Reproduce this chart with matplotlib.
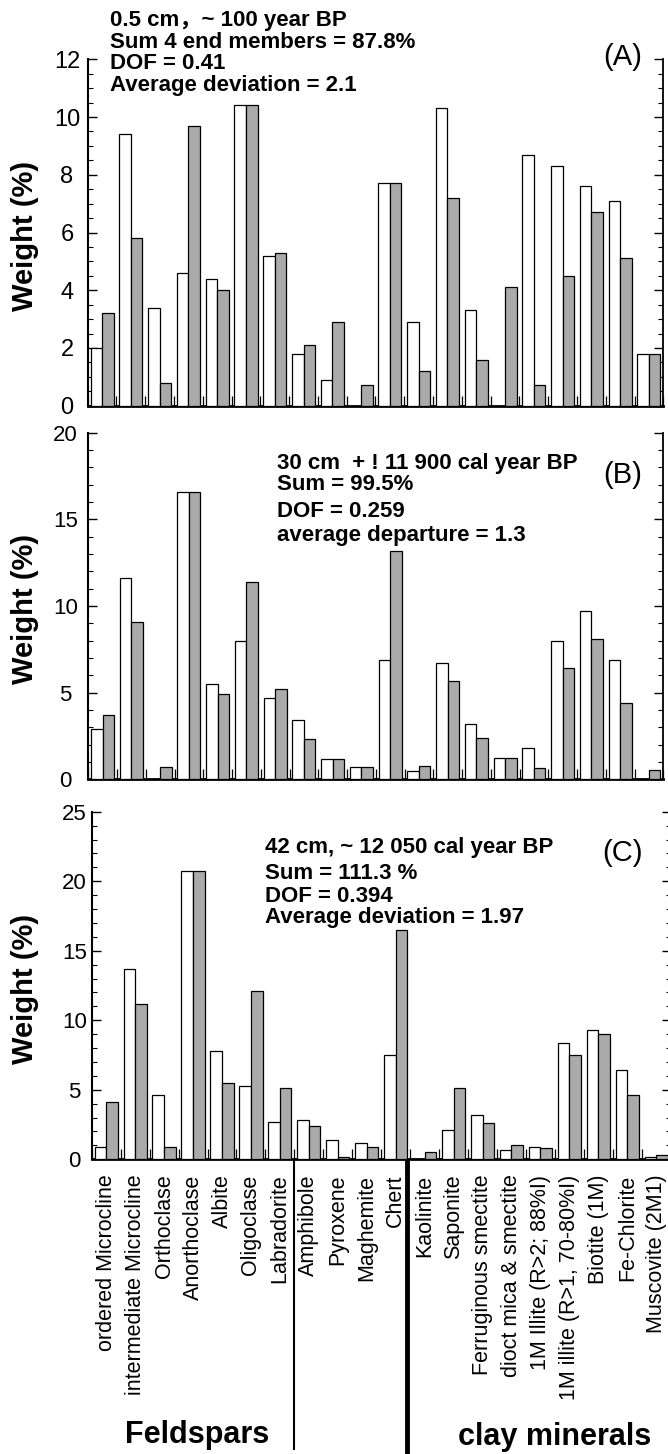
import matplotlib
matplotlib.use('Agg')
import matplotlib.pyplot as plt
from matplotlib.ticker import MultipleLocator
import numpy as np

plt.rcParams['font.family'] = ['Liberation Sans', 'DejaVu Sans']

minerals = ['ordered Microcline', 'intermediate Microcline', 'Orthoclase',
            'Anorthoclase', 'Albite', 'Oligoclase', 'Labradorite',
            'Amphibole', 'Pyroxene', 'Maghemite', 'Chert', 'Kaolinite',
            'Saponite', 'Ferruginous smectite', 'dioct mica & smectite',
            '1M Illite (R>2; 88%I)', '1M illite (R>1, 70-80%I)',
            'Biotite (1M)', 'Fe-Chlorite', 'Muscovite (2M1)']
groups = ['Feldspars', 'clay minerals']

# (A) 0.5 cm
a_white = [2.0, 9.4, 3.4, 4.6, 4.4, 10.4, 5.2, 1.8, 0.9, 0.0,
           7.7, 2.9, 10.3, 3.3, 0.0, 8.7, 8.3, 7.6, 7.1, 1.8]
a_gray = [3.2, 5.8, 0.8, 9.7, 4.0, 10.4, 5.3, 2.1, 2.9, 0.7,
          7.7, 1.2, 7.2, 1.6, 4.1, 0.7, 4.5, 6.7, 5.1, 1.8]
a_notes = ['0.5 cm，~ 100 year BP', 'Sum 4 end members = 87.8%',
           'DOF = 0.41', 'Average deviation = 2.1']

# (B) 30 cm
b_white = [2.9, 11.6, 0.0, 16.6, 5.5, 8.0, 4.7, 3.4, 1.2, 0.7,
           6.9, 0.5, 6.7, 3.2, 1.25, 1.8, 8.0, 9.7, 6.9, 0.0]
b_gray = [3.7, 9.1, 0.7, 16.6, 4.9, 11.4, 5.2, 2.3, 1.2, 0.7,
          13.2, 0.75, 5.7, 2.4, 1.25, 0.65, 6.4, 8.1, 4.4, 0.55]
b_notes = ['30 cm  + ! 11 900 cal year BP', 'Sum = 99.5%',
           'DOF = 0.259', 'average departure = 1.3']

# (C) 42 cm
c_white = [0.9, 13.7, 4.6, 20.7, 7.8, 5.3, 2.7, 2.8, 1.4, 1.15,
           7.5, 0.0, 2.1, 3.2, 0.7, 0.9, 8.4, 9.3, 6.4, 0.2]
c_gray = [4.1, 11.2, 0.9, 20.7, 5.5, 12.1, 5.1, 2.4, 0.2, 0.9,
          16.5, 0.55, 5.1, 2.6, 1.0, 0.8, 7.5, 9.0, 4.6, 0.3]
c_notes = ['42 cm, ~ 12 050 cal year BP', 'Sum = 111.3 %',
           'DOF = 0.394', 'Average deviation = 1.97']

W, H = 668, 1454
fig = plt.figure(figsize=(W / 100, H / 100), dpi=100)


def fx(x):
    return x / W


def fy(y):
    return 1 - y / H


def panel(left, right, top, bottom, white, gray, ymax, major, minor,
          lab_x, lab_size, tag, tag_y, notes, note_x, note_ys):
    ax = fig.add_axes([fx(left), fy(bottom), (right - left) / W, (bottom - top) / H])
    x = np.arange(len(white))
    ax.bar(x + 0.1, white, width=0.4, align='edge', color='white',
           edgecolor='black', lw=0.9, zorder=3)
    ax.bar(x + 0.5, gray, width=0.4, align='edge', color='#aaaaaa',
           edgecolor='black', lw=0.9, zorder=3)
    ax.set_xlim(0, len(white))
    ax.set_ylim(0, ymax)

    ax.spines['top'].set_visible(False)
    ax.spines['left'].set_linewidth(1.5)
    ax.spines['right'].set_linewidth(1.3)
    ax.spines['bottom'].set_linewidth(2.0)

    ax.yaxis.set_major_locator(MultipleLocator(major))
    ax.yaxis.set_minor_locator(MultipleLocator(minor))
    ax.tick_params(axis='y', which='both', direction='in', left=True, right=True)
    ax.tick_params(axis='y', which='major', length=6.5, width=1.0,
                   labelsize=lab_size, pad=(left - lab_x) * 0.72)
    ax.tick_params(axis='y', which='minor', length=3.5, width=0.8)
    for lbl in ax.get_yticklabels():
        lbl.set_horizontalalignment('center')

    ax.set_xticks(x + 0.5)
    ax.set_xticks(np.arange(len(white) + 1), minor=True)
    ax.tick_params(axis='x', which='major', length=0)
    ax.tick_params(axis='x', which='minor', direction='in', length=7, width=0.9)
    ax.set_xticklabels([])

    fig.text(fx(25), fy((top + bottom) / 2 + 3), 'Weight (%)', rotation=90,
             ha='center', va='center', fontsize=21, fontweight='bold')
    fig.text(fx(622.5), fy(tag_y), tag, ha='center', va='center', fontsize=21)
    for line, ny in zip(notes, note_ys):
        fig.text(fx(note_x), fy(ny), line, ha='left', va='baseline',
                 fontsize=16, fontweight='bold',
                 family=['Liberation Sans', 'Noto Sans CJK SC'])
    return ax


ax_a = panel(87.7, 663.3, 59.3, 405.7, a_white, a_gray, 12, 2, 0.5,
             67, 17, '(A)', 56.7, a_notes, 110, [26, 47.7, 69.3, 90.7])
ax_b = panel(88.3, 663.3, 432.7, 779.3, b_white, b_gray, 20, 5, 1,
             65.5, 16, '(B)', 475, b_notes, 276.7, [469.3, 490, 516.7, 540.7])
ax_c = panel(91.7, 670.7, 811.7, 1159.3, c_white, c_gray, 25, 5, 1,
             74.5, 16, '(C)', 853, c_notes, 265, [853.3, 879.3, 901.7, 923.3])

ax_c.set_xticklabels(minerals, rotation=90, fontsize=15.5)
ax_c.tick_params(axis='x', which='major', pad=11)

# group separators below the bottom panel
trans = ax_c.get_xaxis_transform()
ax_c.plot([7.0, 7.0], [0, -0.836], transform=trans, color='black',
          lw=1.5, clip_on=False, solid_capstyle='butt')
ax_c.plot([10.9, 10.9], [0, -0.86], transform=trans, color='black',
          lw=3.5, clip_on=False, solid_capstyle='butt')

fig.text(fx(196.7), fy(1443), groups[0], ha='center', va='baseline',
         fontsize=22, fontweight='bold')
fig.text(fx(554.5), fy(1445), groups[1], ha='center', va='baseline',
         fontsize=22, fontweight='bold')

fig.savefig('out.png', dpi=100)
